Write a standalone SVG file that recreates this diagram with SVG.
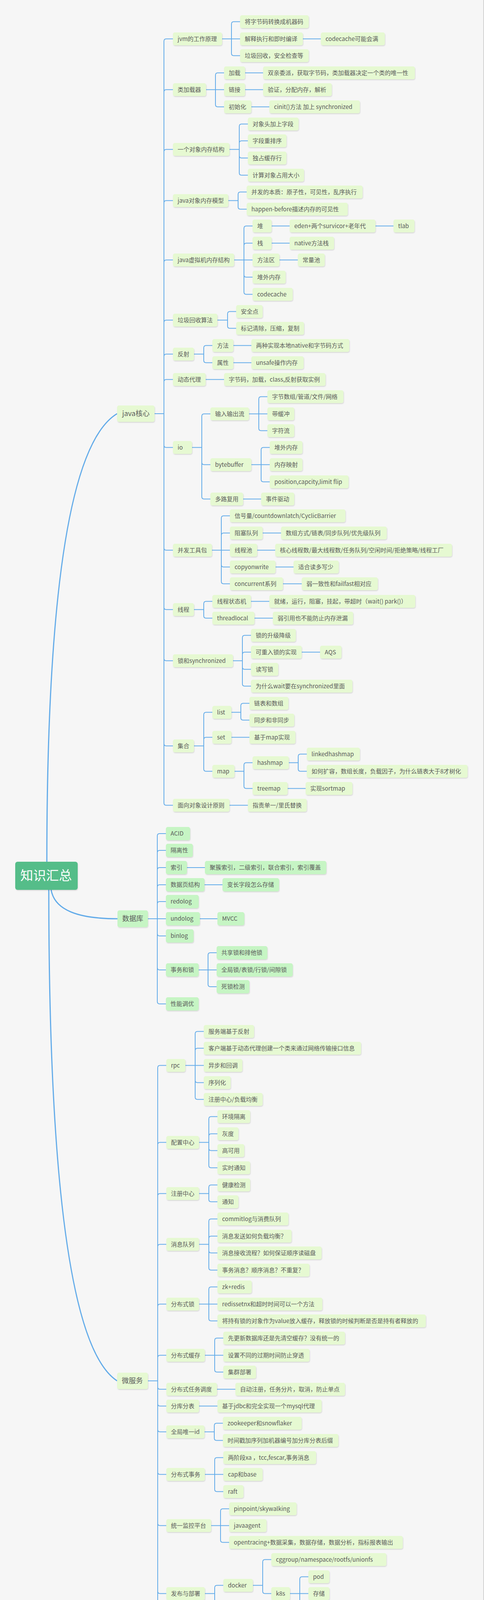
<svg xmlns="http://www.w3.org/2000/svg" width="1240" height="4512" viewBox="0 0 1240 4512">
<defs>
<filter id="sh" x="-5%" y="-15%" width="115%" height="150%"><feDropShadow dx="1" dy="2" stdDeviation="1.2" flood-color="#000" flood-opacity="0.13"/></filter>
<style>
.n rect{fill:#e6f9d2;filter:url(#sh)}
.d rect{fill:#c6f5c4;filter:url(#sh)}
.n text,.d text{font-family:"Noto Sans CJK SC","Microsoft YaHei","Liberation Sans",sans-serif;font-size:15px;fill:#5a5a5a}
.l text{font-size:18px}
.r rect{fill:#55bd89;filter:url(#sh)}
.r text{font-family:"Noto Sans CJK SC","Microsoft YaHei",sans-serif;font-size:33px;fill:#ffffff}
.c path{fill:none;stroke:#62abe9;stroke-width:2}
.c path.m{stroke-width:3}
</style>
</defs>
<rect x="0" y="0" width="1239" height="4483" fill="#f6f6f6"/>
<path d="M1239 0V4483H0" fill="none" stroke="#c8c8c8" stroke-width="1.5"/>
<g id="connectors" class="c">
<path class="m" d="M120 2206Q120 1167 300 1059"/>
<path class="m" d="M131 2278C140 2330 200 2352 301 2352"/>
<path class="m" d="M125 2278Q125 3421 300 3535"/>
<path d="M396 1059H420M420 1059V105.5Q420 99.5 426 99.5H443M420 1059V235.5Q420 229.5 426 229.5H443M420 1059V388.5Q420 382.5 426 382.5H443M420 1059V519.5Q420 513.5 426 513.5H443M420 1059V671.5Q420 665.5 426 665.5H443M420 1059V825.5Q420 819.5 426 819.5H443M420 1059V912.5Q420 906.5 426 906.5H443M420 1059V977.5Q420 971.5 426 971.5H443M420 1059V1139.5Q420 1145.5 426 1145.5H443M420 1059V1402.5Q420 1408.5 426 1408.5H443M420 1059V1554.5Q420 1560.5 426 1560.5H443M420 1059V1685.5Q420 1691.5 426 1691.5H443M420 1059V1903.5Q420 1909.5 426 1909.5H443M420 1059V2055.5Q420 2061.5 426 2061.5H443"/>
<path d="M569 99.5H615M593 99.5V61.5Q593 55.5 599 55.5H615M593 99.5V136.5Q593 142.5 599 142.5H615M776 99.5H822"/>
<path d="M528 229.5H574M552 229.5V192.5Q552 186.5 558 186.5H574M552 229.5V267.5Q552 273.5 558 273.5H574M628 186.5H674M628 229.5H674M644 273.5H690"/>
<path d="M588 382.5H613M613 382.5V323.5Q613 317.5 619 317.5H635M613 382.5V366.5Q613 360.5 619 360.5H635M613 382.5V398.5Q613 404.5 619 404.5H635M613 382.5V442.5Q613 448.5 619 448.5H635"/>
<path d="M585 513.5H610M610 513.5V497.5Q610 491.5 616 491.5H632M610 513.5V529.5Q610 535.5 616 535.5H632"/>
<path d="M600 665.5H647M625 665.5V584.5Q625 578.5 631 578.5H647M625 665.5V628.5Q625 622.5 631 622.5H647M625 665.5V703.5Q625 709.5 631 709.5H647M625 665.5V747.5Q625 753.5 631 753.5H647M696 578.5H742M962 578.5H1008M696 622.5H742M716 665.5H763"/>
<path d="M557 819.5H583M583 819.5V803.5Q583 797.5 589 797.5H605M583 819.5V834.5Q583 840.5 589 840.5H605"/>
<path d="M497 906.5H522M522 906.5V890.5Q522 884.5 528 884.5H544M522 906.5V922.5Q522 928.5 528 928.5H544M598 884.5H644M598 928.5H644"/>
<path d="M527 971.5H574"/>
<path d="M492 1145.5H517M517 1145.5V1065.5Q517 1059.5 523 1059.5H539M517 1145.5V1183.5Q517 1189.5 523 1189.5H539M517 1145.5V1271.5Q517 1277.5 523 1277.5H539"/>
<path d="M638 1059.5H685M663 1059.5V1021.5Q663 1015.5 669 1015.5H685M663 1059.5V1096.5Q663 1102.5 669 1102.5H685"/>
<path d="M644 1189.5H691M669 1189.5V1151.5Q669 1145.5 675 1145.5H691M669 1189.5V1227.5Q669 1233.5 675 1233.5H691M623 1277.5H669"/>
<path d="M543 1408.5H589M567 1408.5V1326.5Q567 1320.5 573 1320.5H589M567 1408.5V1370.5Q567 1364.5 573 1364.5H589M567 1408.5V1445.5Q567 1451.5 573 1451.5H589M567 1408.5V1488.5Q567 1494.5 573 1494.5H589M673 1364.5H720M659 1408.5H705M706 1451.5H752M725 1494.5H773"/>
<path d="M497 1560.5H522M522 1560.5V1545.5Q522 1539.5 528 1539.5H544M522 1560.5V1576.5Q522 1582.5 528 1582.5H544M643 1539.5H690M652 1582.5H699"/>
<path d="M597 1691.5H621M621 1691.5V1632.5Q621 1626.5 627 1626.5H643M621 1691.5V1675.5Q621 1669.5 627 1669.5H643M621 1691.5V1707.5Q621 1713.5 627 1713.5H643M621 1691.5V1750.5Q621 1756.5 627 1756.5H643M773 1669.5H820"/>
<path d="M497 1909.5H522M522 1909.5V1829.5Q522 1823.5 528 1823.5H544M522 1909.5V1893.5Q522 1887.5 528 1887.5H544M522 1909.5V1968.5Q522 1974.5 528 1974.5H544"/>
<path d="M593 1823.5H617M617 1823.5V1806.5Q617 1800.5 623 1800.5H639M617 1823.5V1837.5Q617 1843.5 623 1843.5H639M593 1887.5H639"/>
<path d="M601 1974.5H625M625 1974.5V1958.5Q625 1952.5 631 1952.5H647M625 1974.5V2012.5Q625 2018.5 631 2018.5H647M740 1952.5H764M764 1952.5V1936.5Q764 1930.5 770 1930.5H786M764 1952.5V1968.5Q764 1974.5 770 1974.5H786M737 2018.5H783M588 2061.5H635"/>
<path d="M379 2352H425M403 2352V2140Q403 2134 409 2134H425M403 2352V2183Q403 2177 409 2177H425M403 2352V2227Q403 2221 409 2221H425M403 2352V2271Q403 2265 409 2265H425M403 2352V2314Q403 2308 409 2308H425M403 2352V2390Q403 2396 409 2396H425M403 2352V2477Q403 2483 409 2483H425M403 2352V2564Q403 2570 409 2570H425M479 2221H525M524 2265H570M512 2352H557"/>
<path d="M509 2483H555M533 2483V2445Q533 2439 539 2439H555M533 2483V2520Q533 2526 539 2526H555"/>
<path d="M379 3535H404M404 3535V2733.5Q404 2727.5 410 2727.5H426M404 3535V2930.5Q404 2924.5 410 2924.5H426M404 3535V3061.5Q404 3055.5 410 3055.5H426M404 3535V3191.5Q404 3185.5 410 3185.5H426M404 3535V3344.5Q404 3338.5 410 3338.5H426M404 3535V3475.5Q404 3469.5 410 3469.5H426M404 3535V3550.5Q404 3556.5 410 3556.5H426M404 3535V3593.5Q404 3599.5 410 3599.5H426M404 3535V3659.5Q404 3665.5 410 3665.5H426M404 3535V3768.5Q404 3774.5 410 3774.5H426M404 3535V3899.5Q404 3905.5 410 3905.5H426M404 3535V4073.5Q404 4079.5 410 4079.5H426M404 3535V4313.5Q404 4319.5 410 4319.5H426"/>
<path d="M475 2727.5H522M500 2727.5V2646.5Q500 2640.5 506 2640.5H522M500 2727.5V2689.5Q500 2683.5 506 2683.5H522M500 2727.5V2765.5Q500 2771.5 506 2771.5H522M500 2727.5V2808.5Q500 2814.5 506 2814.5H522"/>
<path d="M510 2924.5H535M535 2924.5V2864.5Q535 2858.5 541 2858.5H557M535 2924.5V2908.5Q535 2902.5 541 2902.5H557M535 2924.5V2939.5Q535 2945.5 541 2945.5H557M535 2924.5V2983.5Q535 2989.5 541 2989.5H557"/>
<path d="M510 3055.5H535M535 3055.5V3039.5Q535 3033.5 541 3033.5H557M535 3055.5V3070.5Q535 3076.5 541 3076.5H557"/>
<path d="M510 3185.5H535M535 3185.5V3126.5Q535 3120.5 541 3120.5H557M535 3185.5V3170.5Q535 3164.5 541 3164.5H557M535 3185.5V3201.5Q535 3207.5 541 3207.5H557M535 3185.5V3245.5Q535 3251.5 541 3251.5H557"/>
<path d="M510 3338.5H557M535 3338.5V3300.5Q535 3294.5 541 3294.5H557M535 3338.5V3375.5Q535 3381.5 541 3381.5H557"/>
<path d="M525 3469.5H572M550 3469.5V3431.5Q550 3425.5 556 3425.5H572M550 3469.5V3506.5Q550 3512.5 556 3512.5H572M556 3556.5H603M510 3599.5H557"/>
<path d="M524 3665.5H549M549 3665.5V3649.5Q549 3643.5 555 3643.5H571M549 3665.5V3681.5Q549 3687.5 555 3687.5H571"/>
<path d="M525 3774.5H572M550 3774.5V3737.5Q550 3731.5 556 3731.5H572M550 3774.5V3812.5Q550 3818.5 556 3818.5H572"/>
<path d="M541 3905.5H587M565 3905.5V3868.5Q565 3862.5 571 3862.5H587M565 3905.5V3942.5Q565 3948.5 571 3948.5H587"/>
<path d="M525 4079.5H550M550 4079.5V4064.5Q550 4058.5 556 4058.5H572M550 4079.5V4161.5Q550 4167.5 556 4167.5H572M648 4058.5H673M673 4058.5V3998.5Q673 3992.5 679 3992.5H695M673 4058.5V4073.5Q673 4079.5 679 4079.5H695M743 4079.5H790M768 4079.5V4042.5Q768 4036.5 774 4036.5H790M768 4079.5V4117.5Q768 4123.5 774 4123.5H790"/>
<path d="M525 4319.5H550M550 4319.5V4216.5Q550 4210.5 556 4210.5H572M550 4319.5V4260.5Q550 4254.5 556 4254.5H572M550 4319.5V4304.5Q550 4298.5 556 4298.5H572M550 4319.5V4335.5Q550 4341.5 556 4341.5H572M550 4319.5V4379.5Q550 4385.5 556 4385.5H572M550 4319.5V4422.5Q550 4428.5 556 4428.5H572"/>
</g>
<g id="root" class="r"><rect x="39" y="2206" width="160" height="72" rx="6"/><text x="52" y="2253">知识汇总</text></g>
<g id="java" class="n l"><rect x="300" y="1038" width="96" height="42" rx="5"/><text x="313" y="1065">java核心</text></g>
<g id="n1" class="n"><rect x="443" y="83" width="126" height="33" rx="5"/><text x="455" y="104.5">jvm的工作原理</text></g>
<g id="n2" class="n"><rect x="615" y="39" width="176" height="33" rx="5"/><text x="627" y="60.5">将字节码转换成机器码</text></g>
<g id="n3" class="n"><rect x="615" y="83" width="161" height="33" rx="5"/><text x="627" y="104.5">解释执行和即时编译</text></g>
<g id="n4" class="n"><rect x="822" y="83" width="164" height="33" rx="5"/><text x="834" y="104.5">codecache可能会满</text></g>
<g id="n5" class="n"><rect x="615" y="126" width="176" height="33" rx="5"/><text x="627" y="147.5">垃圾回收，安全检查等</text></g>
<g id="n6" class="n"><rect x="443" y="213" width="85" height="33" rx="5"/><text x="455" y="234.5">类加载器</text></g>
<g id="n7" class="n"><rect x="574" y="170" width="54" height="33" rx="5"/><text x="586" y="191.5">加载</text></g>
<g id="n8" class="n"><rect x="674" y="170" width="389" height="33" rx="5"/><text x="686" y="191.5">双亲委派，获取字节码，类加载器决定一个类的唯一性</text></g>
<g id="n9" class="n"><rect x="574" y="213" width="54" height="33" rx="5"/><text x="586" y="234.5">链接</text></g>
<g id="n10" class="n"><rect x="674" y="213" width="176" height="33" rx="5"/><text x="686" y="234.5">验证，分配内存，解析</text></g>
<g id="n11" class="n"><rect x="574" y="257" width="70" height="33" rx="5"/><text x="586" y="278.5">初始化</text></g>
<g id="n12" class="n"><rect x="690" y="257" width="232" height="33" rx="5"/><text x="702" y="278.5">cinit()方法 加上 synchronized</text></g>
<g id="n13" class="n"><rect x="443" y="366" width="145" height="33" rx="5"/><text x="455" y="387.5">一个对象内存结构</text></g>
<g id="n14" class="n"><rect x="635" y="301" width="130" height="33" rx="5"/><text x="647" y="322.5">对象头加上字段</text></g>
<g id="n15" class="n"><rect x="635" y="344" width="99" height="33" rx="5"/><text x="647" y="365.5">字段重排序</text></g>
<g id="n16" class="n"><rect x="635" y="388" width="99" height="33" rx="5"/><text x="647" y="409.5">独占缓存行</text></g>
<g id="n17" class="n"><rect x="635" y="432" width="144" height="33" rx="5"/><text x="647" y="453.5">计算对象占用大小</text></g>
<g id="n18" class="n"><rect x="443" y="497" width="142" height="33" rx="5"/><text x="455" y="518.5">java对象内存模型</text></g>
<g id="n19" class="n"><rect x="632" y="475" width="297" height="33" rx="5"/><text x="644" y="496.5">并发的本质：原子性，可见性，乱序执行</text></g>
<g id="n20" class="n"><rect x="632" y="519" width="259" height="33" rx="5"/><text x="644" y="540.5">happen-before描述内存的可见性</text></g>
<g id="n21" class="n"><rect x="443" y="649" width="157" height="33" rx="5"/><text x="455" y="670.5">java虚拟机内存结构</text></g>
<g id="n22" class="n"><rect x="647" y="562" width="49" height="33" rx="5"/><text x="659" y="583.5">堆</text></g>
<g id="n23" class="n"><rect x="742" y="562" width="220" height="33" rx="5"/><text x="754" y="583.5">eden+两个survicor+老年代</text></g>
<g id="n24" class="n"><rect x="1008" y="562" width="54" height="33" rx="5"/><text x="1020" y="583.5">tlab</text></g>
<g id="n25" class="n"><rect x="647" y="606" width="49" height="33" rx="5"/><text x="659" y="627.5">栈</text></g>
<g id="n26" class="n"><rect x="742" y="606" width="114" height="33" rx="5"/><text x="754" y="627.5">native方法栈</text></g>
<g id="n27" class="n"><rect x="647" y="649" width="69" height="33" rx="5"/><text x="659" y="670.5">方法区</text></g>
<g id="n28" class="n"><rect x="763" y="649" width="69" height="33" rx="5"/><text x="775" y="670.5">常量池</text></g>
<g id="n29" class="n"><rect x="647" y="693" width="85" height="33" rx="5"/><text x="659" y="714.5">堆外内存</text></g>
<g id="n30" class="n"><rect x="647" y="737" width="103" height="33" rx="5"/><text x="659" y="758.5">codecache</text></g>
<g id="n31" class="n"><rect x="443" y="803" width="114" height="33" rx="5"/><text x="455" y="824.5">垃圾回收算法</text></g>
<g id="n32" class="n"><rect x="605" y="781" width="68" height="33" rx="5"/><text x="617" y="802.5">安全点</text></g>
<g id="n33" class="n"><rect x="605" y="824" width="174" height="33" rx="5"/><text x="617" y="845.5">标记清除，压缩，复制</text></g>
<g id="n34" class="n"><rect x="443" y="890" width="54" height="33" rx="5"/><text x="455" y="911.5">反射</text></g>
<g id="n35" class="n"><rect x="544" y="868" width="54" height="33" rx="5"/><text x="556" y="889.5">方法</text></g>
<g id="n36" class="n"><rect x="644" y="868" width="251" height="33" rx="5"/><text x="656" y="889.5">两种实现本地native和字节码方式</text></g>
<g id="n37" class="n"><rect x="544" y="912" width="54" height="33" rx="5"/><text x="556" y="933.5">属性</text></g>
<g id="n38" class="n"><rect x="644" y="912" width="134" height="33" rx="5"/><text x="656" y="933.5">unsafe操作内存</text></g>
<g id="n39" class="n"><rect x="443" y="955" width="84" height="33" rx="5"/><text x="455" y="976.5">动态代理</text></g>
<g id="n40" class="n"><rect x="574" y="955" width="260" height="33" rx="5"/><text x="586" y="976.5">字节码，加载，class,反射获取实例</text></g>
<g id="n41" class="n"><rect x="443" y="1129" width="49" height="33" rx="5"/><text x="455" y="1150.5">io</text></g>
<g id="n42" class="n"><rect x="539" y="1043" width="99" height="33" rx="5"/><text x="551" y="1064.5">输入输出流</text></g>
<g id="n43" class="n"><rect x="685" y="999" width="195" height="33" rx="5"/><text x="697" y="1020.5">字节数组/管道/文件/网络</text></g>
<g id="n44" class="n"><rect x="685" y="1043" width="69" height="33" rx="5"/><text x="697" y="1064.5">带缓冲</text></g>
<g id="n45" class="n"><rect x="685" y="1086" width="69" height="33" rx="5"/><text x="697" y="1107.5">字符流</text></g>
<g id="n46" class="n"><rect x="539" y="1173" width="105" height="33" rx="5"/><text x="551" y="1194.5">bytebuffer</text></g>
<g id="n47" class="n"><rect x="691" y="1129" width="84" height="33" rx="5"/><text x="703" y="1150.5">堆外内存</text></g>
<g id="n48" class="n"><rect x="691" y="1173" width="84" height="33" rx="5"/><text x="703" y="1194.5">内存映射</text></g>
<g id="n49" class="n"><rect x="691" y="1217" width="202" height="33" rx="5"/><text x="703" y="1238.5">position,capcity,limit flip</text></g>
<g id="n50" class="n"><rect x="539" y="1261" width="84" height="33" rx="5"/><text x="551" y="1282.5">多路复用</text></g>
<g id="n51" class="n"><rect x="669" y="1261" width="85" height="33" rx="5"/><text x="681" y="1282.5">事件驱动</text></g>
<g id="n52" class="n"><rect x="443" y="1392" width="100" height="33" rx="5"/><text x="455" y="1413.5">并发工具包</text></g>
<g id="n53" class="n"><rect x="589" y="1304" width="296" height="33" rx="5"/><text x="601" y="1325.5">信号量/countdownlatch/CyclicBarrier</text></g>
<g id="n54" class="n"><rect x="589" y="1348" width="84" height="33" rx="5"/><text x="601" y="1369.5">阻塞队列</text></g>
<g id="n55" class="n"><rect x="720" y="1348" width="271" height="33" rx="5"/><text x="732" y="1369.5">数组方式/链表/同步队列/优先级队列</text></g>
<g id="n56" class="n"><rect x="589" y="1392" width="70" height="33" rx="5"/><text x="601" y="1413.5">线程池</text></g>
<g id="n57" class="n"><rect x="705" y="1392" width="453" height="33" rx="5"/><text x="717" y="1413.5">核心线程数/最大线程数/任务队列/空闲时间/拒绝策略/线程工厂</text></g>
<g id="n58" class="n"><rect x="589" y="1435" width="117" height="33" rx="5"/><text x="601" y="1456.5">copyonwrite</text></g>
<g id="n59" class="n"><rect x="752" y="1435" width="116" height="33" rx="5"/><text x="764" y="1456.5">适合读多写少</text></g>
<g id="n60" class="n"><rect x="589" y="1478" width="136" height="33" rx="5"/><text x="601" y="1499.5">concurrent系列</text></g>
<g id="n61" class="n"><rect x="773" y="1478" width="195" height="33" rx="5"/><text x="785" y="1499.5">弱一致性和failfast相对应</text></g>
<g id="n62" class="n"><rect x="443" y="1544" width="54" height="33" rx="5"/><text x="455" y="1565.5">线程</text></g>
<g id="n63" class="n"><rect x="544" y="1523" width="99" height="33" rx="5"/><text x="556" y="1544.5">线程状态机</text></g>
<g id="n64" class="n"><rect x="690" y="1523" width="374" height="33" rx="5"/><text x="702" y="1544.5">就绪，运行，阻塞，挂起，带超时（wait() park()）</text></g>
<g id="n65" class="n"><rect x="544" y="1566" width="108" height="33" rx="5"/><text x="556" y="1587.5">threadlocal</text></g>
<g id="n66" class="n"><rect x="699" y="1566" width="206" height="33" rx="5"/><text x="711" y="1587.5">弱引用也不能防止内存泄漏</text></g>
<g id="n67" class="n"><rect x="443" y="1675" width="154" height="33" rx="5"/><text x="455" y="1696.5">锁和synchronized</text></g>
<g id="n68" class="n"><rect x="643" y="1610" width="115" height="33" rx="5"/><text x="655" y="1631.5">锁的升级降级</text></g>
<g id="n69" class="n"><rect x="643" y="1653" width="130" height="33" rx="5"/><text x="655" y="1674.5">可重入锁的实现</text></g>
<g id="n70" class="n"><rect x="820" y="1653" width="55" height="33" rx="5"/><text x="832" y="1674.5">AQS</text></g>
<g id="n71" class="n"><rect x="643" y="1697" width="70" height="33" rx="5"/><text x="655" y="1718.5">读写锁</text></g>
<g id="n72" class="n"><rect x="643" y="1740" width="260" height="33" rx="5"/><text x="655" y="1761.5">为什么wait要在synchronized里面</text></g>
<g id="n73" class="n"><rect x="443" y="1893" width="54" height="33" rx="5"/><text x="455" y="1914.5">集合</text></g>
<g id="n74" class="n"><rect x="544" y="1807" width="49" height="33" rx="5"/><text x="556" y="1828.5">list</text></g>
<g id="n75" class="n"><rect x="639" y="1784" width="100" height="33" rx="5"/><text x="651" y="1805.5">链表和数组</text></g>
<g id="n76" class="n"><rect x="639" y="1827" width="115" height="33" rx="5"/><text x="651" y="1848.5">同步和非同步</text></g>
<g id="n77" class="n"><rect x="544" y="1871" width="49" height="33" rx="5"/><text x="556" y="1892.5">set</text></g>
<g id="n78" class="n"><rect x="639" y="1871" width="118" height="33" rx="5"/><text x="651" y="1892.5">基于map实现</text></g>
<g id="n79" class="n"><rect x="544" y="1958" width="57" height="33" rx="5"/><text x="556" y="1979.5">map</text></g>
<g id="n80" class="n"><rect x="647" y="1936" width="93" height="33" rx="5"/><text x="659" y="1957.5">hashmap</text></g>
<g id="n81" class="n"><rect x="786" y="1914" width="136" height="33" rx="5"/><text x="798" y="1935.5">linkedhashmap</text></g>
<g id="n82" class="n"><rect x="786" y="1958" width="412" height="33" rx="5"/><text x="798" y="1979.5">如何扩容，数组长度，负载因子，为什么链表大于8才树化</text></g>
<g id="n83" class="n"><rect x="647" y="2002" width="90" height="33" rx="5"/><text x="659" y="2023.5">treemap</text></g>
<g id="n84" class="n"><rect x="783" y="2002" width="120" height="33" rx="5"/><text x="795" y="2023.5">实现sortmap</text></g>
<g id="n85" class="n"><rect x="443" y="2045" width="145" height="33" rx="5"/><text x="455" y="2066.5">面向对象设计原则</text></g>
<g id="n86" class="n"><rect x="635" y="2045" width="151" height="33" rx="5"/><text x="647" y="2066.5">指责单一/里氏替换</text></g>
<g id="db" class="d l"><rect x="301" y="2330.5" width="78" height="43" rx="5"/><text x="313" y="2358">数据库</text></g>
<g id="d1" class="d"><rect x="425" y="2117" width="62" height="34" rx="5"/><text x="437" y="2139">ACID</text></g>
<g id="d2" class="d"><rect x="425" y="2160" width="69" height="34" rx="5"/><text x="437" y="2182">隔离性</text></g>
<g id="d3" class="d"><rect x="425" y="2204" width="54" height="34" rx="5"/><text x="437" y="2226">索引</text></g>
<g id="d4" class="d"><rect x="525" y="2204" width="311" height="34" rx="5"/><text x="537" y="2226">聚簇索引，二级索引，联合索引，索引覆盖</text></g>
<g id="d5" class="d"><rect x="425" y="2248" width="99" height="34" rx="5"/><text x="437" y="2270">数据页结构</text></g>
<g id="d6" class="d"><rect x="570" y="2248" width="145" height="34" rx="5"/><text x="582" y="2270">变长字段怎么存储</text></g>
<g id="d7" class="d"><rect x="425" y="2291" width="84" height="34" rx="5"/><text x="437" y="2313">redolog</text></g>
<g id="d8" class="d"><rect x="425" y="2335" width="87" height="34" rx="5"/><text x="437" y="2357">undolog</text></g>
<g id="d9" class="d"><rect x="557" y="2335" width="69" height="34" rx="5"/><text x="569" y="2357">MVCC</text></g>
<g id="d10" class="d"><rect x="425" y="2379" width="71" height="34" rx="5"/><text x="437" y="2401">binlog</text></g>
<g id="d11" class="d"><rect x="425" y="2466" width="84" height="34" rx="5"/><text x="437" y="2488">事务和锁</text></g>
<g id="d12" class="d"><rect x="555" y="2422" width="130" height="34" rx="5"/><text x="567" y="2444">共享锁和排他锁</text></g>
<g id="d13" class="d"><rect x="555" y="2466" width="195" height="34" rx="5"/><text x="567" y="2488">全局锁/表锁/行锁/间隙锁</text></g>
<g id="d14" class="d"><rect x="555" y="2509" width="84" height="34" rx="5"/><text x="567" y="2531">死锁检测</text></g>
<g id="d15" class="d"><rect x="425" y="2553" width="84" height="34" rx="5"/><text x="437" y="2575">性能调优</text></g>
<g id="ms" class="n l"><rect x="300" y="3514" width="79" height="42" rx="5"/><text x="312" y="3541">微服务</text></g>
<g id="m1" class="n"><rect x="426" y="2711" width="49" height="33" rx="5"/><text x="438" y="2732.5">rpc</text></g>
<g id="m2" class="n"><rect x="522" y="2624" width="129" height="33" rx="5"/><text x="534" y="2645.5">服务端基于反射</text></g>
<g id="m3" class="n"><rect x="522" y="2667" width="403" height="33" rx="5"/><text x="534" y="2688.5">客户端基于动态代理创建一个类来通过网络传输接口信息</text></g>
<g id="m4" class="n"><rect x="522" y="2711" width="99" height="33" rx="5"/><text x="534" y="2732.5">异步和回调</text></g>
<g id="m5" class="n"><rect x="522" y="2755" width="69" height="33" rx="5"/><text x="534" y="2776.5">序列化</text></g>
<g id="m6" class="n"><rect x="522" y="2798" width="151" height="33" rx="5"/><text x="534" y="2819.5">注册中心/负载均衡</text></g>
<g id="m7" class="n"><rect x="426" y="2908" width="84" height="33" rx="5"/><text x="438" y="2929.5">配置中心</text></g>
<g id="m8" class="n"><rect x="557" y="2842" width="84" height="33" rx="5"/><text x="569" y="2863.5">环境隔离</text></g>
<g id="m9" class="n"><rect x="557" y="2886" width="54" height="33" rx="5"/><text x="569" y="2907.5">灰度</text></g>
<g id="m10" class="n"><rect x="557" y="2929" width="69" height="33" rx="5"/><text x="569" y="2950.5">高可用</text></g>
<g id="m11" class="n"><rect x="557" y="2973" width="84" height="33" rx="5"/><text x="569" y="2994.5">实时通知</text></g>
<g id="m12" class="n"><rect x="426" y="3039" width="84" height="33" rx="5"/><text x="438" y="3060.5">注册中心</text></g>
<g id="m13" class="n"><rect x="557" y="3017" width="84" height="33" rx="5"/><text x="569" y="3038.5">健康检测</text></g>
<g id="m14" class="n"><rect x="557" y="3060" width="54" height="33" rx="5"/><text x="569" y="3081.5">通知</text></g>
<g id="m15" class="n"><rect x="426" y="3169" width="84" height="33" rx="5"/><text x="438" y="3190.5">消息队列</text></g>
<g id="m16" class="n"><rect x="557" y="3104" width="182" height="33" rx="5"/><text x="569" y="3125.5">commitlog与消费队列</text></g>
<g id="m17" class="n"><rect x="557" y="3148" width="190" height="33" rx="5"/><text x="569" y="3169.5">消息发送如何负载均衡？</text></g>
<g id="m18" class="n"><rect x="557" y="3191" width="267" height="33" rx="5"/><text x="569" y="3212.5">消息接收流程？如何保证顺序读磁盘</text></g>
<g id="m19" class="n"><rect x="557" y="3235" width="236" height="33" rx="5"/><text x="569" y="3256.5">事务消息？顺序消息？不重复？</text></g>
<g id="m20" class="n"><rect x="426" y="3322" width="84" height="33" rx="5"/><text x="438" y="3343.5">分布式锁</text></g>
<g id="m21" class="n"><rect x="557" y="3278" width="88" height="33" rx="5"/><text x="569" y="3299.5">zk+redis</text></g>
<g id="m22" class="n"><rect x="557" y="3322" width="269" height="33" rx="5"/><text x="569" y="3343.5">redissetnx和超时时间可以一个方法</text></g>
<g id="m23" class="n"><rect x="557" y="3365" width="534" height="33" rx="5"/><text x="569" y="3386.5">将持有锁的对象作为value放入缓存，释放锁的时候判断是否是持有者释放的</text></g>
<g id="m24" class="n"><rect x="426" y="3453" width="99" height="33" rx="5"/><text x="438" y="3474.5">分布式缓存</text></g>
<g id="m25" class="n"><rect x="572" y="3409" width="312" height="33" rx="5"/><text x="584" y="3430.5">先更新数据库还是先清空缓存？没有统一的</text></g>
<g id="m26" class="n"><rect x="572" y="3453" width="221" height="33" rx="5"/><text x="584" y="3474.5">设置不同的过期时间防止穿透</text></g>
<g id="m27" class="n"><rect x="572" y="3496" width="84" height="33" rx="5"/><text x="584" y="3517.5">集群部署</text></g>
<g id="m28" class="n"><rect x="426" y="3540" width="130" height="33" rx="5"/><text x="438" y="3561.5">分布式任务调度</text></g>
<g id="m29" class="n"><rect x="603" y="3540" width="281" height="33" rx="5"/><text x="615" y="3561.5">自动注册，任务分片，取消，防止单点</text></g>
<g id="m30" class="n"><rect x="426" y="3583" width="84" height="33" rx="5"/><text x="438" y="3604.5">分库分表</text></g>
<g id="m31" class="n"><rect x="557" y="3583" width="267" height="33" rx="5"/><text x="569" y="3604.5">基于jdbc和完全实现一个mysql代理</text></g>
<g id="m32" class="n"><rect x="426" y="3649" width="98" height="33" rx="5"/><text x="438" y="3670.5">全局唯一id</text></g>
<g id="m33" class="n"><rect x="571" y="3627" width="202" height="33" rx="5"/><text x="583" y="3648.5">zookeeper和snowflaker</text></g>
<g id="m34" class="n"><rect x="571" y="3671" width="296" height="33" rx="5"/><text x="583" y="3692.5">时间戳加序列加机器编号加分库分表后缀</text></g>
<g id="m35" class="n"><rect x="426" y="3758" width="99" height="33" rx="5"/><text x="438" y="3779.5">分布式事务</text></g>
<g id="m36" class="n"><rect x="572" y="3715" width="238" height="33" rx="5"/><text x="584" y="3736.5">两阶段xa ，tcc,fescar,事务消息</text></g>
<g id="m37" class="n"><rect x="572" y="3758" width="101" height="33" rx="5"/><text x="584" y="3779.5">cap和base</text></g>
<g id="m38" class="n"><rect x="572" y="3802" width="52" height="33" rx="5"/><text x="584" y="3823.5">raft</text></g>
<g id="m39" class="n"><rect x="426" y="3889" width="115" height="33" rx="5"/><text x="438" y="3910.5">统一监控平台</text></g>
<g id="m40" class="n"><rect x="587" y="3846" width="173" height="33" rx="5"/><text x="599" y="3867.5">pinpoint/skywalking</text></g>
<g id="m41" class="n"><rect x="587" y="3889" width="96" height="33" rx="5"/><text x="599" y="3910.5">javaagent</text></g>
<g id="m42" class="n"><rect x="587" y="3932" width="445" height="33" rx="5"/><text x="599" y="3953.5">opentracing+数据采集，数据存储，数据分析，指标报表输出</text></g>
<g id="m43" class="n"><rect x="426" y="4063" width="99" height="33" rx="5"/><text x="438" y="4084.5">发布与部署</text></g>
<g id="m44" class="n"><rect x="572" y="4042" width="76" height="33" rx="5"/><text x="584" y="4063.5">docker</text></g>
<g id="m45" class="n"><rect x="695" y="3976" width="295" height="33" rx="5"/><text x="707" y="3997.5">cggroup/namespace/rootfs/unionfs</text></g>
<g id="m46" class="n"><rect x="695" y="4063" width="48" height="33" rx="5"/><text x="707" y="4084.5">k8s</text></g>
<g id="m47" class="n"><rect x="790" y="4020" width="54" height="33" rx="5"/><text x="802" y="4041.5">pod</text></g>
<g id="m48" class="n"><rect x="790" y="4063" width="54" height="33" rx="5"/><text x="802" y="4084.5">存储</text></g>
<g id="m49" class="n"><rect x="790" y="4107" width="54" height="33" rx="5"/><text x="802" y="4128.5">网络</text></g>
<g id="m50" class="n"><rect x="572" y="4151" width="160" height="33" rx="5"/><text x="584" y="4172.5">蓝绿发布与灰度发布</text></g>
<g id="m51" class="n"><rect x="426" y="4303" width="99" height="33" rx="5"/><text x="438" y="4324.5">抢购与秒杀</text></g>
<g id="m52" class="n"><rect x="572" y="4194" width="252" height="33" rx="5"/><text x="584" y="4215.5">业务隔离，系统隔离，数据库隔离</text></g>
<g id="m53" class="n"><rect x="572" y="4238" width="84" height="33" rx="5"/><text x="584" y="4259.5">动静分离</text></g>
<g id="m54" class="n"><rect x="572" y="4282" width="97" height="33" rx="5"/><text x="584" y="4303.5">缓存和cdn</text></g>
<g id="m55" class="n"><rect x="572" y="4325" width="628" height="33" rx="5"/><text x="584" y="4346.5">请求排队加数据库更新的排队，防止死锁检测耗费大量cpu在同时更新一个热点记录的时候</text></g>
<g id="m56" class="n"><rect x="572" y="4369" width="99" height="33" rx="5"/><text x="584" y="4390.5">限流和熔断</text></g>
<g id="m57" class="n"><rect x="572" y="4412" width="54" height="33" rx="5"/><text x="584" y="4433.5">降级</text></g>
</svg>
